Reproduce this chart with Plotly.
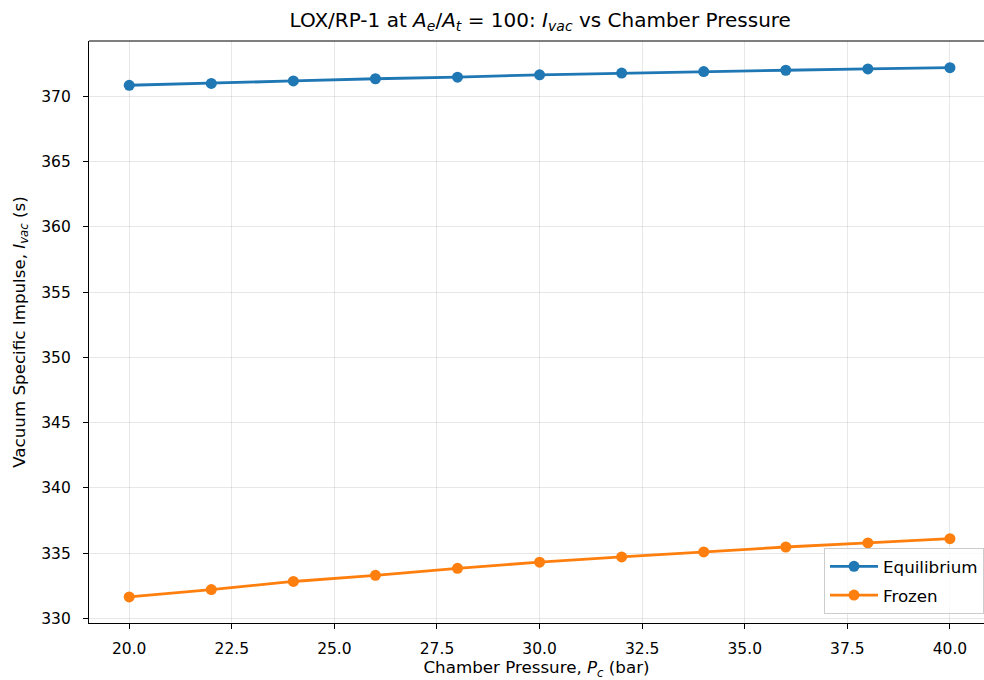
import plotly.graph_objects as go

pressure = [20, 22, 24, 26, 28, 30, 32, 34, 36, 38, 40]
isp_equilibrium = [370.84, 370.98, 371.17, 371.34, 371.46, 371.64, 371.77, 371.89, 371.99, 372.09, 372.19]
isp_frozen = [331.66, 332.22, 332.84, 333.31, 333.85, 334.32, 334.72, 335.10, 335.48, 335.79, 336.12]
x_ticks = [20.0, 22.5, 25.0, 27.5, 30.0, 32.5, 35.0, 37.5, 40.0]
y_ticks = [330, 335, 340, 345, 350, 355, 360, 365, 370]

FONT = "DejaVu Sans"
TICK_SIZE = 15.5
LABEL_SIZE = 16.7
TITLE_SIZE = 20

fig = go.Figure()
fig.add_trace(go.Scatter(
    x=pressure, y=isp_equilibrium, mode="lines+markers", name="Equilibrium",
    legendgroup="eq",
    line=dict(color="#1f77b4", width=2.8),
    marker=dict(color="#1f77b4", size=11),
))
fig.add_trace(go.Scatter(
    x=pressure, y=isp_frozen, mode="lines+markers", name="Frozen",
    legendgroup="fr",
    line=dict(color="#ff7f0e", width=2.8),
    marker=dict(color="#ff7f0e", size=11),
))

axis_common = dict(
    showgrid=True, gridcolor="rgba(176,176,176,0.3)", gridwidth=1,
    zeroline=False, showline=True, linecolor="black", linewidth=1.1,
    ticks="outside", ticklen=5, tickwidth=1, tickcolor="black",
    tickfont=dict(family=FONT, size=TICK_SIZE, color="black"),
)

fig.update_layout(
    width=984, height=680,
    margin=dict(l=89, r=0, t=41, b=57),
    paper_bgcolor="white", plot_bgcolor="white",
    font=dict(family=FONT, color="black"),
    title=dict(
        text="LOX/RP-1 at <i>A</i><sub><i>e</i></sub>/<i>A</i><sub><i>t</i></sub> = 100: "
             "<i>I</i><sub><i>vac</i></sub> vs Chamber Pressure",
        x=0.549, xanchor="center", y=0.971, yanchor="middle",
        font=dict(family=FONT, size=TITLE_SIZE, color="black"),
    ),
    xaxis=dict(
        range=[19.02, 40.83], tickvals=x_ticks, ticktext=[f"{v:.1f}" for v in x_ticks],
        ticklabelstandoff=6,
        title=dict(text="Chamber Pressure, <i>P</i><sub><i>c</i></sub> (bar)",
                   font=dict(family=FONT, size=LABEL_SIZE), standoff=8),
        **axis_common,
    ),
    yaxis=dict(
        range=[329.66, 374.23], tickvals=y_ticks, ticktext=[str(v) for v in y_ticks],
        ticklabelstandoff=9,
        title=dict(text="Vacuum Specific Impulse, <i>I</i><sub><i>vac</i></sub> (s)",
                   font=dict(family=FONT, size=LABEL_SIZE), standoff=11),
        **axis_common,
    ),
    legend=dict(
        x=1.0, y=0.0155, xanchor="right", yanchor="bottom",
        bgcolor="rgba(255,255,255,0.8)", bordercolor="#cccccc", borderwidth=1,
        font=dict(family=FONT, size=LABEL_SIZE, color="black"),
        tracegroupgap=4, itemwidth=48,
    ),
    showlegend=True,
)
# top spine
fig.add_shape(type="line", xref="paper", yref="paper", x0=0, x1=1, y0=1, y1=1,
              line=dict(color="black", width=1.1))

fig.write_html("out.html", config={"displayModeBar": False},
               post_script="document.body.style.margin='0';")
